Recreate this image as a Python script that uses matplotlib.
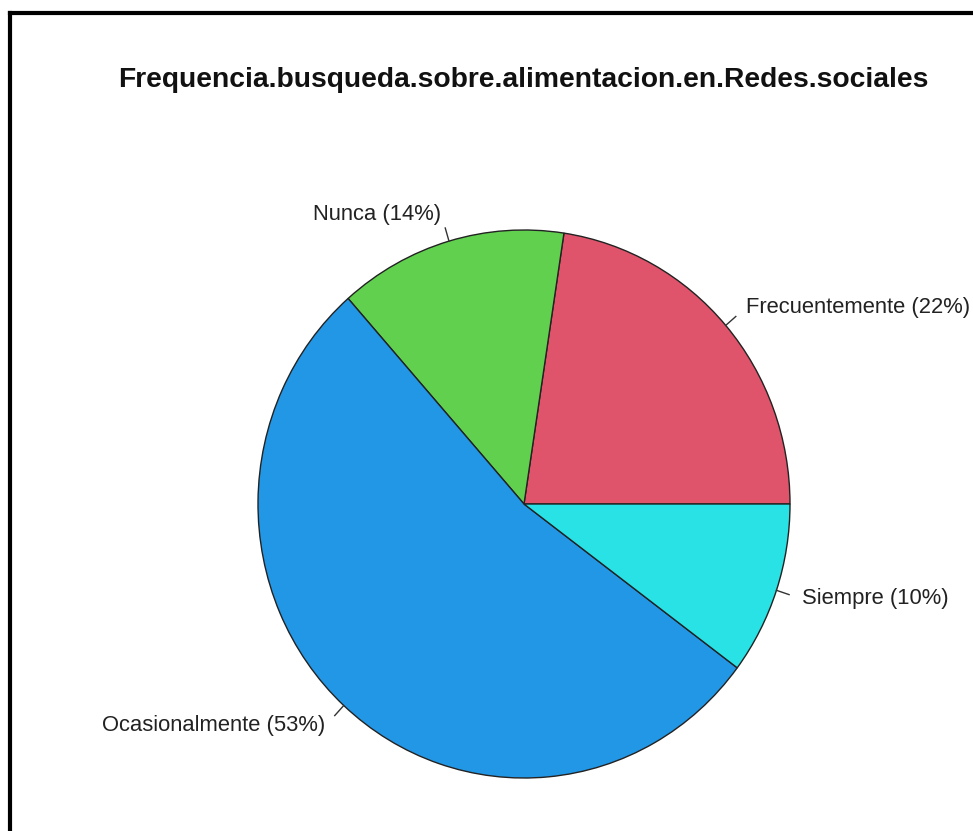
import numpy as np
import matplotlib
matplotlib.use("Agg")
from matplotlib import pyplot as plt
from matplotlib.lines import Line2D

# data (shares in %, drawn counter-clockwise from 3 o'clock like R's pie)
categories = ["Frecuentemente", "Nunca", "Ocasionalmente", "Siempre"]
shares = [22.6, 13.9, 53.3, 10.2]
labels = ["Frecuentemente (22%)", "Nunca (14%)", "Ocasionalmente (53%)", "Siempre (10%)"]
colours = ["#DF536B", "#61D04F", "#2297E6", "#28E2E5"]
title = "Frequencia.busqueda.sobre.alimentacion.en.Redes.sociales"

plt.rcParams['font.family'] = ['Liberation Sans', 'DejaVu Sans']

W, H = 973, 831
fig = plt.figure(figsize=(W / 100, H / 100), dpi=100)

# pie centre and radii in pixels (the screenshot is a little stretched vertically)
cx, cy, rx, ry = 524, 504, 266, 274
half = 300
ax = fig.add_axes([(cx - half) / W, (H - cy - half) / H, 2 * half / W, 2 * half / H])

wedges, _ = ax.pie(shares, colors=colours, startangle=0, counterclock=True, radius=1.0,
                   wedgeprops=dict(edgecolor='#222222', linewidth=1.0))

# pie() sets its own limits, so put ours back afterwards
ax.set_xlim(-half / rx, half / rx)
ax.set_ylim(-half / ry, half / ry)
ax.set_aspect('auto')
ax.axis('off')

# R style labels: tick from 1.0 to 1.05, text at 1.1
tot = sum(shares)
cum = 0.0
for lab, s in zip(labels, shares):
    mid = np.deg2rad((cum + s / 2) / tot * 360)
    cum += s
    c, sn = np.cos(mid), np.sin(mid)
    ax.plot([c, 1.05 * c], [sn, 1.05 * sn], color='#333333', linewidth=1.0)
    ax.text(1.1 * c, 1.1 * sn, lab, ha='left' if c > 0 else 'right', va='center',
            fontsize=15.8, color='#222222', clip_on=False)

fig.text(523.5 / W, 1 - 80 / H, title, ha='center', va='center',
         fontsize=20.3, fontweight='bold', color='#111111')

# frame lines (only top and left visible in the original crop)
fig.add_artist(Line2D([10 / W, 10 / W], [0, 1 - 13 / H], transform=fig.transFigure,
                      color='black', linewidth=3.0))
fig.add_artist(Line2D([10 / W, 1], [1 - 13 / H, 1 - 13 / H], transform=fig.transFigure,
                      color='black', linewidth=3.0))

fig.savefig("out.png", dpi=100)
